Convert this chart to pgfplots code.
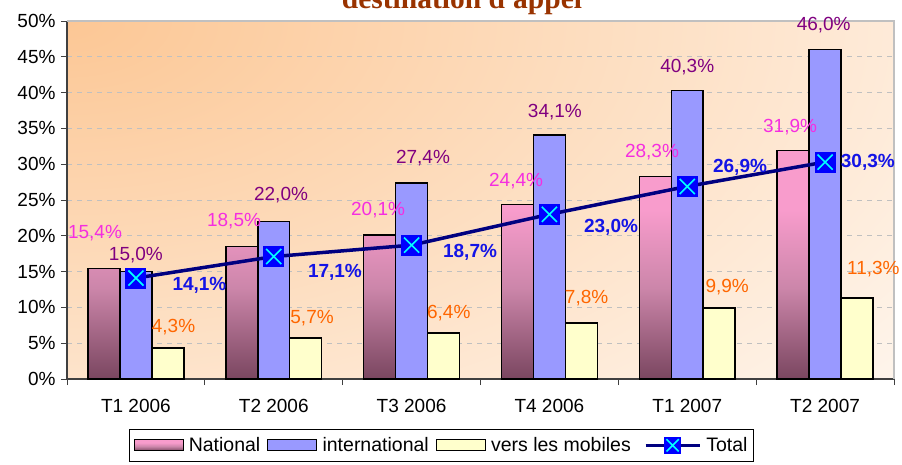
\documentclass[border=0pt]{standalone}
\usepackage{fontspec}
\setmainfont{Liberation Sans}
\newfontfamily\titlefont{Liberation Serif}
\usepackage{pgfplots}
\pgfplotsset{compat=1.18}

\definecolor{bgorange}{HTML}{FCC795}
\definecolor{pinktop}{HTML}{F89CCC}
\definecolor{pinkmid}{HTML}{CC86AA}
\definecolor{pinkbot}{HTML}{7A4660}
\definecolor{intl}{HTML}{9999FF}
\definecolor{mob}{HTML}{FFFFCC}
\definecolor{navyline}{HTML}{000080}
\definecolor{natlab}{HTML}{F52EE0}
\definecolor{intlab}{HTML}{800080}
\definecolor{moblab}{HTML}{FF6600}
\definecolor{totlab}{HTML}{1414E6}
\definecolor{titlecol}{HTML}{993300}
\definecolor{axisgray}{HTML}{404040}
\definecolor{bordergray}{HTML}{C0C0C0}
\definecolor{markblue}{HTML}{0000FF}
\definecolor{markcyan}{HTML}{00FFFF}

\pgfdeclareverticalshading{natshade}{100bp}{color(0bp)=(pinkbot); color(25bp)=(pinkbot); color(45bp)=(pinkmid); color(62bp)=(pinktop); color(100bp)=(pinktop)}

\pgfdeclareplotmark{boxx}{%
  \pgfpathrectangle{\pgfqpoint{-\pgfplotmarksize}{-\pgfplotmarksize}}{\pgfqpoint{2\pgfplotmarksize}{2\pgfplotmarksize}}%
  \pgfsetfillcolor{markblue}\pgfusepathqfill
  \pgfsetlinewidth{1.6pt}\pgfsetstrokecolor{markcyan}%
  \pgfpathmoveto{\pgfqpoint{-0.72\pgfplotmarksize}{-0.72\pgfplotmarksize}}%
  \pgfpathlineto{\pgfqpoint{0.72\pgfplotmarksize}{0.72\pgfplotmarksize}}%
  \pgfpathmoveto{\pgfqpoint{-0.72\pgfplotmarksize}{0.72\pgfplotmarksize}}%
  \pgfpathlineto{\pgfqpoint{0.72\pgfplotmarksize}{-0.72\pgfplotmarksize}}%
  \pgfusepathqstroke}

\pgfplotsset{
  barleg/.style={legend image code/.code={\draw[##1, line width=1pt] (0pt,-5.5pt) rectangle (49pt,5.5pt); \path (52pt,0pt);}},
  totleg/.style={legend image code/.code={\path (-6pt,0pt); \draw[mark repeat=2, mark phase=2, ##1, line width=3pt, mark size=8.5pt] plot coordinates {(0pt,0pt) (27pt,0pt) (54pt,0pt)}; \path (57pt,0pt);}},
}

\newcommand\lab{\fontsize{19}{22}\selectfont}

\begin{document}
\begin{tikzpicture}
\begin{axis}[
  at={(67pt,85pt)}, anchor=south west,
  scale only axis, width=827pt, height=358pt,
  xmin=-0.5, xmax=5.5, ymin=0, ymax=50,
  set layers,
  clip=false,
  axis x line*=bottom, axis y line*=left,
  axis line style={-, draw=axisgray, line width=1.5pt},
  ytick={0,5,...,50},
  yticklabels={0\%,5\%,10\%,15\%,20\%,25\%,30\%,35\%,40\%,45\%,50\%},
  xtick={0,1,2,3,4,5},
  xticklabels={T1 2006,T2 2006,T3 2006,T4 2006,T1 2007,T2 2007},
  minor xtick={-0.5,0.5,1.5,2.5,3.5,4.5,5.5},
  tick align=outside,
  major tick length=6pt, minor tick length=6pt,
  tick style={draw=axisgray, line width=1pt},
  every major x tick/.append style={draw=none},
  ymajorgrids,
  grid style={draw=bordergray, line width=1pt, dash pattern=on 5pt off 5pt},
  tick label style={font=\lab, text=black},
  yticklabel style={xshift=-2pt},
  xticklabel style={yshift=-11pt},
  legend columns=4,
  legend style={at={(0.075,-0.1397)}, anchor=north west, draw=black, line width=1pt, fill=white,
    font=\fontsize{19.5}{22}\selectfont, inner xsep=4pt, inner ysep=6pt,
    /tikz/every even column/.append style={column sep=5pt}},
  legend cell align=left,
]
\begin{pgfonlayer}{axis background}
  \begin{scope}
    \clip (rel axis cs:0,0) rectangle (rel axis cs:1,1);
    \shade[inner color=bgorange, outer color=white] (rel axis cs:0,1) ellipse [x radius=1300pt, y radius=700pt];
  \end{scope}
\end{pgfonlayer}

\addplot[ybar, bar width=0.232, bar shift=-0.232, draw=black, line width=1.5pt, shade, shading=natshade, barleg]
  coordinates {(0,15.4) (1,18.5) (2,20.1) (3,24.4) (4,28.3) (5,31.9)};
\addlegendentry{National}
\addplot[ybar, bar width=0.232, bar shift=0, draw=black, line width=1.5pt, fill=intl, barleg]
  coordinates {(0,15.0) (1,22.0) (2,27.4) (3,34.1) (4,40.3) (5,46.0)};
\addlegendentry{international}
\addplot[ybar, bar width=0.232, bar shift=0.232, draw=black, line width=1.5pt, fill=mob, barleg]
  coordinates {(0,4.3) (1,5.7) (2,6.4) (3,7.8) (4,9.9) (5,11.3)};
\addlegendentry{vers les mobiles}
\addplot[draw=navyline, line width=3.5pt, mark=boxx, mark size=10.5pt, totleg]
  coordinates {(0,14.1) (1,17.1) (2,18.7) (3,23.0) (4,26.9) (5,30.3)};
\addlegendentry{Total}

\draw[bordergray, line width=1.5pt] (rel axis cs:0,1) -- (rel axis cs:1,1) -- (rel axis cs:1,0);

% labels National
\node[font=\lab, text=natlab] at (axis cs:-0.297,20.4) {15,4\%};
\node[font=\lab, text=natlab] at (axis cs:0.712,22.1) {18,5\%};
\node[font=\lab, text=natlab] at (axis cs:1.757,23.6) {20,1\%};
\node[font=\lab, text=natlab] at (axis cs:2.758,27.7) {24,4\%};
\node[font=\lab, text=natlab] at (axis cs:3.744,31.7) {28,3\%};
\node[font=\lab, text=natlab] at (axis cs:4.746,35.2) {31,9\%};
% labels international
\node[font=\lab, text=intlab] at (axis cs:0.0,17.3) {15,0\%};
\node[font=\lab, text=intlab] at (axis cs:1.053,25.7) {22,0\%};
\node[font=\lab, text=intlab] at (axis cs:2.083,30.9) {27,4\%};
\node[font=\lab, text=intlab] at (axis cs:3.04,37.3) {34,1\%};
\node[font=\lab, text=intlab] at (axis cs:4.0,43.6) {40,3\%};
\node[font=\lab, text=intlab] at (axis cs:4.99,49.4) {46,0\%};
% labels mobiles
\node[font=\lab, text=moblab] at (axis cs:0.273,7.26) {4,3\%};
\node[font=\lab, text=moblab] at (axis cs:1.278,8.5) {5,7\%};
\node[font=\lab, text=moblab] at (axis cs:2.27,9.2) {6,4\%};
\node[font=\lab, text=moblab] at (axis cs:3.27,11.3) {7,8\%};
\node[font=\lab, text=moblab] at (axis cs:4.29,12.85) {9,9\%};
\node[font=\lab, text=moblab] at (axis cs:5.35,15.4) {11,3\%};
% labels total
\node[font=\lab\bfseries, text=totlab] at (axis cs:0.461,13.1) {14,1\%};
\node[font=\lab\bfseries, text=totlab] at (axis cs:1.444,14.9) {17,1\%};
\node[font=\lab\bfseries, text=totlab] at (axis cs:2.424,17.7) {18,7\%};
\node[font=\lab\bfseries, text=totlab] at (axis cs:3.447,21.2) {23,0\%};
\node[font=\lab\bfseries, text=totlab] at (axis cs:4.383,29.5) {26,9\%};
\node[font=\lab\bfseries, text=totlab] at (axis cs:5.31,30.2) {30,3\%};
\end{axis}
\node[anchor=base, text=titlecol, font=\titlefont\bfseries\fontsize{29.5}{32}\selectfont] at (462pt,455pt) {destination d'appel};
\pgfresetboundingbox
\useasboundingbox (0pt,0pt) rectangle (902pt,464pt);
\end{tikzpicture}
\end{document}
